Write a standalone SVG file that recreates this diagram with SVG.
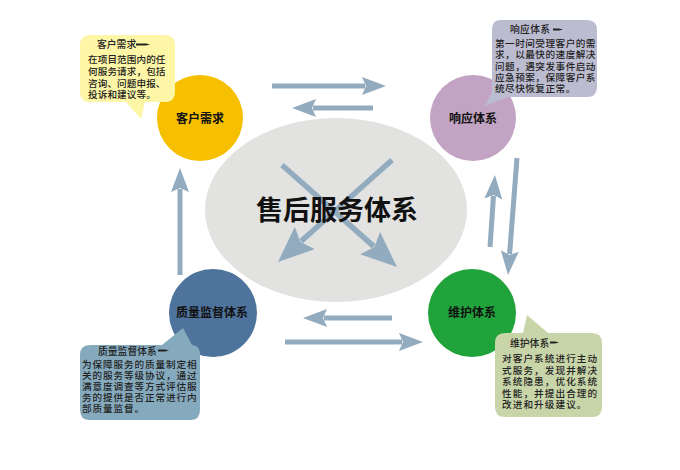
<svg xmlns="http://www.w3.org/2000/svg" width="680" height="470" viewBox="0 0 680 470">
<style>
.conn{fill:none;stroke:#93abbf;stroke-width:5}
.diag{fill:none;stroke:#93abbf;stroke-width:5.5}
.ctext{font-family:"Noto Sans CJK SC","Liberation Sans",sans-serif;font-weight:bold;font-size:12px;fill:#111;text-anchor:middle}
.ntitle{font-family:"Noto Sans CJK SC","Liberation Sans",sans-serif;font-weight:500;font-size:9.8px;fill:#222}
.nbody{font-family:"Noto Sans CJK SC","Liberation Sans",sans-serif;font-weight:500;font-size:9.6px;fill:#222}
.dash{fill:#222}
</style>
<defs>
<marker id="ah" markerUnits="userSpaceOnUse" viewBox="0 0 24 18" markerWidth="24" markerHeight="18" refX="3" refY="9" orient="auto"><path d="M0,0 L24,9 L0,18 L4,9 z" fill="#93abbf"/></marker>
<marker id="ahL" markerUnits="userSpaceOnUse" viewBox="0 0 36 30" markerWidth="36" markerHeight="30" refX="5" refY="15" orient="auto"><path d="M0,0 L36,15 L0,30 L6,15 z" fill="#93abbf"/></marker>
</defs>
<rect width="680" height="470" fill="#ffffff"/>

<g id="center">
<ellipse cx="336" cy="210" rx="131" ry="92" fill="#e2e2e0"/>
</g>

<g id="connectors">
<path class="conn" d="M272,86 H365" marker-end="url(#ah)"/>
<path class="conn" d="M373,108 H313" marker-end="url(#ah)"/>
<path class="conn" d="M392,318 H324" marker-end="url(#ah)"/>
<path class="conn" d="M285,342 H402" marker-end="url(#ah)"/>
<path class="conn" d="M490,247 L493.5,196" marker-end="url(#ah)"/>
<path class="conn" d="M517,158 L509.6,254" marker-end="url(#ah)"/>
<path class="conn" d="M180,275 V189" marker-end="url(#ah)"/>
<path class="diag" d="M282,165 L373.8,246.4" marker-end="url(#ahL)"/>
<path class="diag" d="M392,160 L301.1,241.3" marker-end="url(#ahL)"/>
</g>

<g id="center-label">
<text x="337" y="220" font-family="'Noto Sans CJK SC','Liberation Sans',sans-serif" font-weight="bold" font-size="27" fill="#111" text-anchor="middle">售后服务体系</text>
</g>

<g id="kehu">
<circle cx="200" cy="118" r="43" fill="#f6c000"/>
<text class="ctext" x="200" y="123">客户需求</text>
</g>
<g id="xiangying">
<circle cx="473" cy="118" r="43" fill="#c2a3c3"/>
<text class="ctext" x="473" y="123">响应体系</text>
</g>
<g id="zhiliang">
<circle cx="213" cy="313" r="44" fill="#4e739c"/>
<text class="ctext" x="212" y="317">质量监督体系</text>
</g>
<g id="weihu">
<circle cx="472" cy="313" r="44" fill="#21a33b"/>
<text class="ctext" x="472" y="317">维护体系</text>
</g>

<g id="note-kehu">
<path d="M90,35 H165 Q175,35 175,45 V92 Q175,102 165,102 H145 L141,119 L126,102 H90 Q80,102 80,92 V45 Q80,35 90,35 Z" fill="#fdf6a6"/>
<text class="ntitle" x="97" y="48">客户需求</text>
<path class="dash" d="M136,43.4 H146 L150,44.5 L146,45.6 H136 Z"/>
<g class="nbody" letter-spacing="0.1">
<text x="88" y="63">在项目范围内的任</text>
<text x="88" y="75">何服务请求，包括</text>
<text x="88" y="86.5">咨询、问题申报、</text>
<text x="88" y="98">投诉和建议等。</text>
</g>
</g>

<g id="note-xiangying">
<path d="M500,20 H587 Q597,20 597,30 V87 Q597,97 587,97 H508 L485,106 L492,92 V30 Q492,20 500,20 Z" fill="#bcbcd0"/>
<text class="ntitle" x="510" y="33" letter-spacing="0.3">响应体系</text>
<path class="dash" d="M553,28.4 H559 L563,29.5 L559,30.6 H553 Z"/>
<g class="nbody" letter-spacing="0.5">
<text x="495" y="47">第一时间受理客户的需</text>
<text x="495" y="58">求，以最快的速度解决</text>
<text x="495" y="69.5">问题，遇突发事件启动</text>
<text x="495" y="80.5">应急预案，保障客户系</text>
<text x="495" y="91.5">统尽快恢复正常。</text>
</g>
</g>

<g id="note-zhiliang">
<path d="M90,345 H162 L183,328 L192,345 Q200,345 200,355 V410 Q200,420 190,420 H90 Q80,420 80,410 V355 Q80,345 90,345 Z" fill="#86aabd"/>
<text class="ntitle" x="98" y="355">质量监督体系</text>
<path class="dash" d="M158,349.4 H165 L169,350.5 L165,351.6 H158 Z"/>
<g class="nbody" letter-spacing="0.9">
<text x="82" y="368">为保障服务的质量制定相</text>
<text x="82" y="379">关的服务等级协议，通过</text>
<text x="82" y="390">满意度调查等方式评估服</text>
<text x="82" y="401">务的提供是否正常进行内</text>
<text x="82" y="412">部质量监督。</text>
</g>
</g>

<g id="note-weihu">
<path d="M505,333 H523 L527,315 L548,333 H592 Q602,333 602,343 V407 Q602,417 592,417 H505 Q495,417 495,407 V343 Q495,333 505,333 Z" fill="#c8d5a9"/>
<text class="ntitle" x="510" y="347">维护体系</text>
<path class="dash" d="M550,341.4 H555 L559,342.5 L555,343.6 H550 Z"/>
<g class="nbody" letter-spacing="1.1">
<text x="502" y="362">对客户系统进行主动</text>
<text x="502" y="373.5">式服务，发现并解决</text>
<text x="502" y="385">系统隐患，优化系统</text>
<text x="502" y="396.5">性能，并提出合理的</text>
<text x="502" y="408">改进和升级建议。</text>
</g>
</g>
</svg>
